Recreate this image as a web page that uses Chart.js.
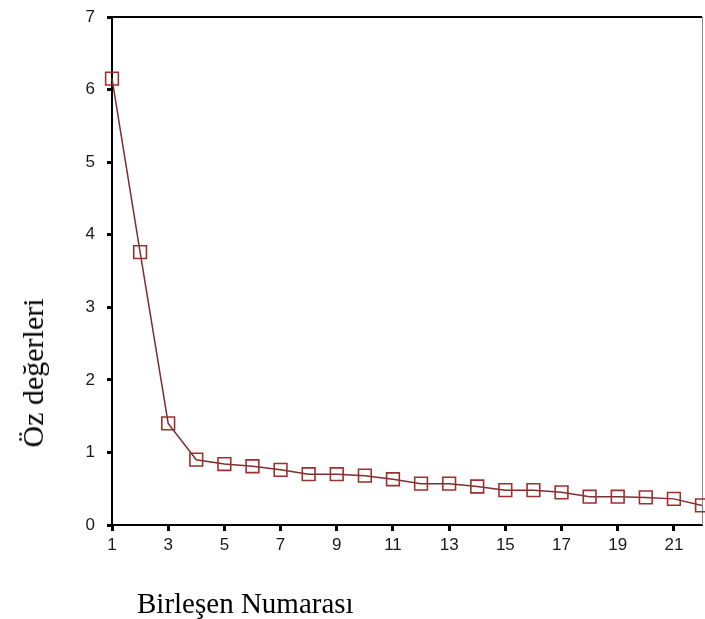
<!DOCTYPE html>
<html>
<head>
<meta charset="utf-8">
<script src="https://cdn.jsdelivr.net/npm/chart.js@4"></script>
<style>
  html, body { margin: 0; padding: 0; background: #fff; }
  #wrap { position: relative; width: 705px; height: 619px; }
  canvas { position: absolute; left: 0; top: 0; }
  .ttl { position: absolute; font-family: "Liberation Serif", "Times New Roman", serif; color: #000; white-space: nowrap; line-height: 1; }
  #ytitle { font-size: 30px; left: 33px; top: 373px; transform: translate(-50%, -50%) rotate(-90deg); }
  #xtitle { font-size: 29px; left: 137px; top: 589px; }
</style>
</head>
<body>
<div id="wrap">
  <canvas id="c" width="705" height="619"></canvas>
  <div class="ttl" id="ytitle">Öz değerleri</div>
  <div class="ttl" id="xtitle">Birleşen Numarası</div>
</div>
<script>
const components = [1,2,3,4,5,6,7,8,9,10,11,12,13,14,15,16,17,18,19,20,21,22];
const eigenvalues = [6.15,3.76,1.40,0.90,0.84,0.81,0.76,0.70,0.70,0.68,0.63,0.57,0.57,0.53,0.48,0.48,0.45,0.39,0.39,0.38,0.36,0.27];
const xTickLabels = [1,3,5,7,9,11,13,15,17,19,21];
const yTickLabels = [0,1,2,3,4,5,6,7];

const framePlugin = {
  id: 'frame',
  beforeDatasetsDraw(chart) {
    const {ctx, chartArea: a} = chart;
    ctx.save();
    ctx.strokeStyle = '#000';
    ctx.lineWidth = 2;
    ctx.beginPath();
    ctx.moveTo(a.left, a.top);
    ctx.lineTo(a.right, a.top);
    ctx.stroke();
    ctx.strokeStyle = '#888';
    ctx.lineWidth = 1;
    ctx.beginPath();
    ctx.moveTo(a.right + 0.5, a.top);
    ctx.lineTo(a.right + 0.5, a.bottom);
    ctx.stroke();
    ctx.restore();
  }
};

new Chart(document.getElementById('c'), {
  type: 'line',
  data: {
    datasets: [{
      data: components.map((x, i) => ({x: x, y: eigenvalues[i]})),
      borderColor: '#7d2e2e',
      borderWidth: 1.5,
      pointStyle: 'rect',
      pointRadius: 9,
      pointBorderColor: '#9c3030',
      pointBackgroundColor: 'rgba(0,0,0,0)',
      pointBorderWidth: 1.6,
      tension: 0,
      fill: false,
      clip: false
    }]
  },
  options: {
    responsive: false,
    animation: false,
    events: [],
    layout: { autoPadding: false, padding: { top: 17, right: 3, left: 0, bottom: 0 } },
    plugins: { legend: { display: false }, tooltip: { enabled: false } },
    scales: {
      x: {
        type: 'linear',
        min: 1, max: 22,
        afterBuildTicks: s => { s.ticks = xTickLabels.map(v => ({value: v})); },
        afterFit: s => { s.height = 94; s.paddingLeft = 0; s.paddingRight = 0; },
        grid: { drawOnChartArea: false, drawTicks: true, tickLength: 6, tickWidth: 3, tickColor: '#000' },
        border: { display: true, color: '#000', width: 2 },
        ticks: { padding: 4, color: '#1a1a1a', font: { family: 'Liberation Sans, Arial, sans-serif', size: 17 }, maxRotation: 0, autoSkip: false }
      },
      y: {
        min: 0, max: 7,
        afterBuildTicks: s => { s.ticks = yTickLabels.map(v => ({value: v})); },
        afterFit: s => { s.width = 112; s.paddingTop = 0; s.paddingBottom = 0; },
        grid: { drawOnChartArea: false, drawTicks: true, tickLength: 5, tickWidth: 3, tickColor: '#000' },
        border: { display: true, color: '#000', width: 2 },
        ticks: { padding: 12, color: '#1a1a1a', font: { family: 'Liberation Sans, Arial, sans-serif', size: 17 } }
      }
    }
  },
  plugins: [framePlugin]
});
</script>
</body>
</html>
